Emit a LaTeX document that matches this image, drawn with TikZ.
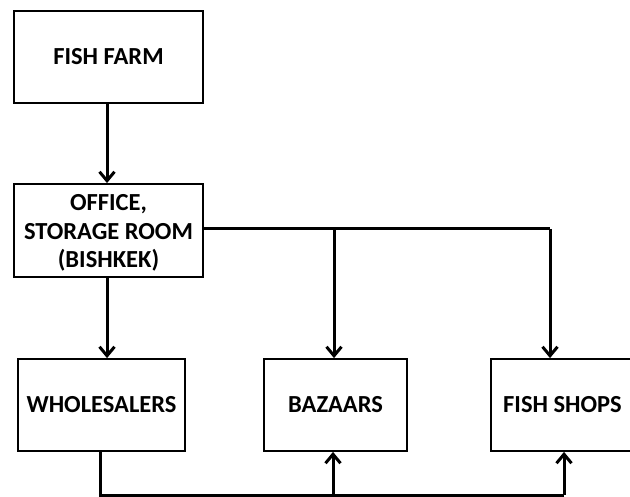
\documentclass[tikz,border=0pt]{standalone}
\usepackage{fontspec}
\setmainfont{Carlito}
\usetikzlibrary{arrows.meta}

\tikzset{
  box/.style={draw=black, line width=1.8pt, fill=white, inner sep=0pt,
    align=center, font=\bfseries\fontsize{24.5}{28.5}\selectfont},
  link/.style={line width=3pt, -{Straight Barb[length=9pt,width=15pt,line width=3pt]}},
  plain/.style={line width=3pt}
}

\begin{document}
\begin{tikzpicture}[x=1pt, y=-1pt]
  \useasboundingbox (0,0) rectangle (630,497);
  \clip (0,0) rectangle (630,497);

  % boxes of the supply chain
  \node[box, minimum width=189pt, minimum height=92pt] (farm) at (108.5,57) {FISH FARM};
  \node[box, minimum width=189pt, minimum height=93pt] (office) at (108.5,230.5)
    {};
  \node[font=\bfseries\fontsize{24.5}{28.5}\selectfont, align=center, inner sep=0pt]
    (officetext) at (108.5,233) {OFFICE,\\STORAGE ROOM\\(BISHKEK)};
  \node[box, minimum width=167pt, minimum height=92pt] (whole) at (101.5,405) {WHOLESALERS};
  \node[box, minimum width=143pt, minimum height=92pt] (bazaar) at (335.5,405) {BAZAARS};
  \node[box, minimum width=143pt, minimum height=92pt] (shops) at (562.5,405) {FISH SHOPS};

  % junction points of the routing lines
  \coordinate (tb) at (334,229);
  \coordinate (ts) at (550,229);
  \coordinate (bw) at (100,495);
  \coordinate (bb) at (333,495);
  \coordinate (bs) at (564,495);

  % farm to office, office to wholesalers
  \draw[link] (farm.south -| 107,0) -- (office.north -| 107,0);
  \draw[link] (office.south -| 107,0) -- (whole.north -| 107,0);

  % office to bazaars and fish shops
  \draw[plain] (office.east |- tb) -- (ts);
  \draw[link] (tb) -- (bazaar.north -| tb);
  \draw[link] (ts) -- (shops.north -| ts);

  % wholesalers supply bazaars and fish shops
  \draw[plain, line join=miter] (whole.south -| bw) -- (bw) -- (bs);
  \draw[link] (bb) -- (bazaar.south -| bb);
  \draw[link] (bs) -- (shops.south -| bs);
\end{tikzpicture}
\end{document}
